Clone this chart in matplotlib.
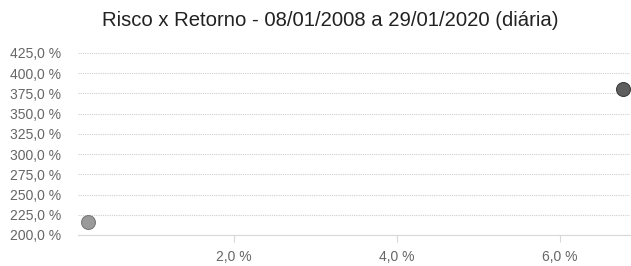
import matplotlib
matplotlib.use("Agg")
import matplotlib.pyplot as plt
from matplotlib.ticker import FuncFormatter, FixedLocator

# Data (risk %, return %)
risco = [0.21, 6.78]
retorno = [216.5, 380.0]
cores = ["#9a9a9a", "#5e5e5e"]
bordas = ["#7a7a7a", "#3e3e3e"]

titulo = "Risco x Retorno - 08/01/2008 a 29/01/2020 (diária)"
y_ticks = [200, 225, 250, 275, 300, 325, 350, 375, 400, 425]
x_ticks = [2.0, 4.0, 6.0]

plt.rcParams['font.family'] = ['Liberation Sans', 'DejaVu Sans']

fig = plt.figure(figsize=(6.31, 2.66), dpi=100)
ax = fig.add_axes([78/631, (266-235)/266, 552/631, (235-53)/266])

for x, y, c, e in zip(risco, retorno, cores, bordas):
    ax.scatter([x], [y], s=100, color=c, edgecolors=e, linewidths=0.8, zorder=3)

ax.set_xlim(0.09, 6.86)
ax.set_ylim(200, 425)

fmt = FuncFormatter(lambda v, p: f"{v:.1f}".replace(".", ",") + " %")
ax.yaxis.set_major_locator(FixedLocator(y_ticks))
ax.xaxis.set_major_locator(FixedLocator(x_ticks))
ax.yaxis.set_major_formatter(fmt)
ax.xaxis.set_major_formatter(fmt)

ax.grid(axis='y', color='#cfcfcf', linestyle=(0, (1, 1)), linewidth=0.8)
for s in ['top', 'right', 'left']:
    ax.spines[s].set_visible(False)
ax.spines['bottom'].set_color('#d8d8d8')
ax.spines['bottom'].set_linewidth(0.8)
ax.tick_params(axis='y', length=0, pad=12, labelsize=10, labelcolor='#666666')
ax.tick_params(axis='x', length=5, color='#d8d8d8', pad=6, labelsize=10, labelcolor='#666666')

fig.text(330/631, 1 - 20/266, titulo, ha='center', va='center', fontsize=14.6, color='#222222')

fig.savefig("out.png", dpi=100)
